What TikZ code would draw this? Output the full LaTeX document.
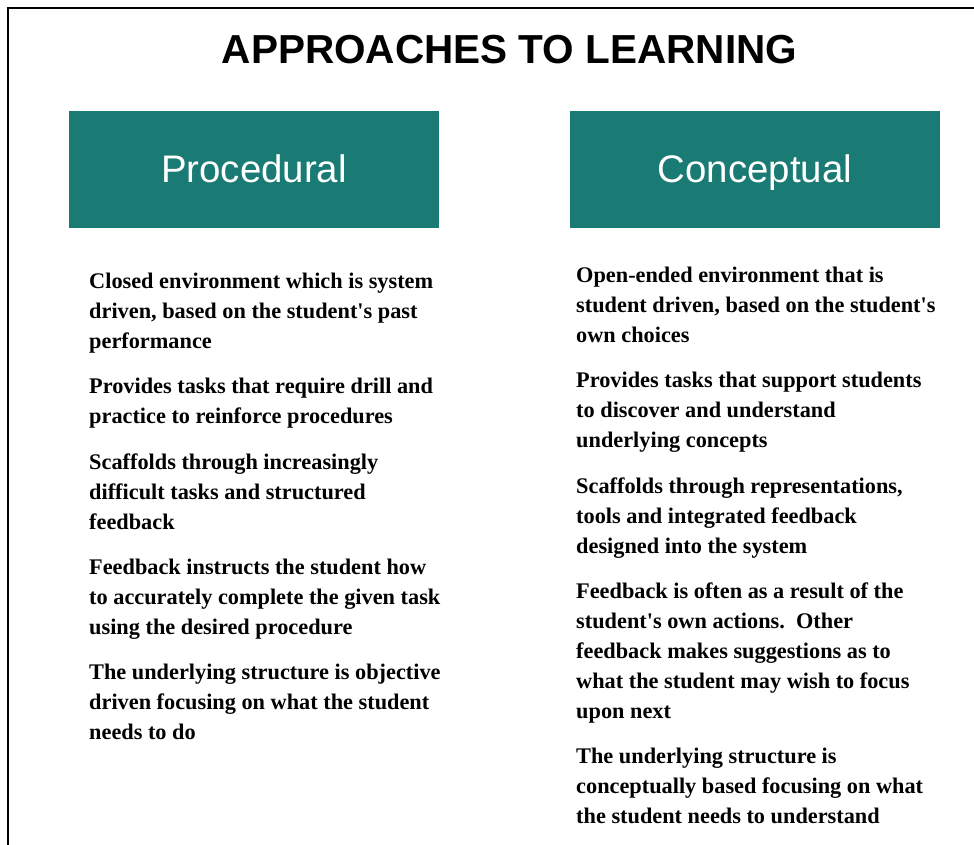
\documentclass[tikz,border=0pt]{standalone}
\usepackage{fontspec}
\setmainfont{Liberation Serif}
\newfontfamily\headfont{Liberation Sans}
\usepackage{xcolor}
\usepackage{tikz}
\usetikzlibrary{positioning}

\definecolor{tealhead}{RGB}{26,123,116}
\newcommand{\linestrut}{\rule[-9pt]{0pt}{30pt}}
\newcommand{\ap}{\textquotesingle}

\tikzset{
    headbox/.style={fill=tealhead, text=white, minimum width=370pt, minimum height=117pt,
        inner sep=0pt, text height=27pt, text depth=0pt, font=\headfont\fontsize{38.4}{44}\selectfont},
    itemtext/.style={align=left, text width=375pt, inner sep=0pt, anchor=north west,
        font=\bfseries\fontsize{22.3}{30}\selectfont,
        execute at begin node={\spaceskip=0pt\xspaceskip=0pt\linestrut},
        execute at end node=\linestrut},
}

\begin{document}
\begin{tikzpicture}[x=1pt, y=-1pt]
    \useasboundingbox (0,0) rectangle (974,845);
    \draw [line width=2.2pt] (8,845) -- (8,8) -- (974,8); % Frame

    \node [anchor=base, font=\headfont\bfseries\fontsize{40.5}{48}\selectfont] (title) at (509.5,63.5) {APPROACHES TO LEARNING};

    \node [headbox] (proc) at (254,169.5) {Procedural};
    \node [headbox] (conc) at (755,169.5) {Conceptual};

    % Procedural column
    \node [itemtext] (p1) at (89,267) {Closed environment which is system\\driven, based on the student\ap s past\\performance};
    \node [itemtext, below=15pt of p1.south west, anchor=north west] (p2) {Provides tasks that require drill and\\practice to reinforce procedures};
    \node [itemtext, below=15pt of p2.south west, anchor=north west] (p3) {Scaffolds through increasingly\\difficult tasks and structured\\feedback};
    \node [itemtext, below=15pt of p3.south west, anchor=north west] (p4) {Feedback instructs the student how\\to accurately complete the given task\\using the desired procedure};
    \node [itemtext, below=15pt of p4.south west, anchor=north west] (p5) {The underlying structure is objective\\driven focusing on what the student\\needs to do};

    % Conceptual column
    \node [itemtext] (c1) at (576,261) {Open-ended environment that is\\student driven, based on the student\ap s\\own choices};
    \node [itemtext, below=15pt of c1.south west, anchor=north west] (c2) {Provides tasks that support students\\to discover and understand\\underlying concepts};
    \node [itemtext, below=15pt of c2.south west, anchor=north west] (c3) {Scaffolds through representations,\\tools and integrated feedback\\designed into the system};
    \node [itemtext, below=15pt of c3.south west, anchor=north west] (c4) {Feedback is often as a result of the\\student\ap s own actions.\ \ Other\\feedback makes suggestions as to\\what the student may wish to focus\\upon next};
    \node [itemtext, below=15pt of c4.south west, anchor=north west] (c5) {The underlying structure is\\conceptually based focusing on what\\the student needs to understand};
\end{tikzpicture}
\end{document}
